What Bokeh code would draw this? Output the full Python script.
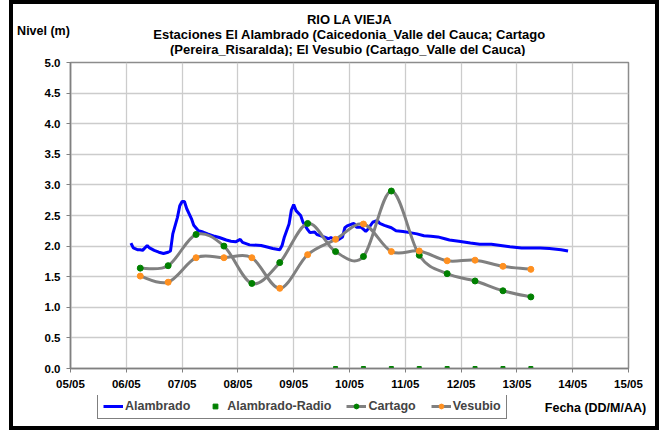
from datetime import datetime
from bokeh.plotting import figure
from bokeh.layouts import column
from bokeh.models import (ColumnDataSource, FixedTicker, DatetimeTickFormatter,
                          NumeralTickFormatter, Range1d, Label, Legend, LegendItem)
from bokeh.embed import file_html
from bokeh.resources import INLINE

# ---------------- data ----------------
alambrado_time = [
    "2011-05-06 02:00", "2011-05-06 03:00", "2011-05-06 05:00", "2011-05-06 06:00",
    "2011-05-06 07:00", "2011-05-06 09:00", "2011-05-06 10:00", "2011-05-06 12:00",
    "2011-05-06 14:00", "2011-05-06 16:00", "2011-05-06 18:00", "2011-05-06 19:00",
    "2011-05-06 20:00", "2011-05-06 22:00", "2011-05-06 23:00", "2011-05-07 00:00",
    "2011-05-07 01:00", "2011-05-07 02:00", "2011-05-07 04:00", "2011-05-07 05:00",
    "2011-05-07 07:00", "2011-05-07 09:00", "2011-05-07 11:00", "2011-05-07 14:00",
    "2011-05-07 16:00", "2011-05-07 19:00", "2011-05-07 21:00", "2011-05-07 23:00",
    "2011-05-08 01:00", "2011-05-08 02:00", "2011-05-08 05:00", "2011-05-08 10:00",
    "2011-05-08 13:00", "2011-05-08 15:00", "2011-05-08 18:00", "2011-05-08 19:00",
    "2011-05-08 20:00", "2011-05-08 22:00", "2011-05-08 23:00", "2011-05-09 00:00",
    "2011-05-09 01:00", "2011-05-09 03:00", "2011-05-09 04:00", "2011-05-09 06:00",
    "2011-05-09 07:00", "2011-05-09 09:00", "2011-05-09 10:00", "2011-05-09 13:00",
    "2011-05-09 15:00", "2011-05-09 16:00", "2011-05-09 18:00", "2011-05-09 19:00",
    "2011-05-09 21:00", "2011-05-09 22:00", "2011-05-09 23:00", "2011-05-10 01:00",
    "2011-05-10 02:00", "2011-05-10 03:00", "2011-05-10 05:00", "2011-05-10 07:00",
    "2011-05-10 08:00", "2011-05-10 10:00", "2011-05-10 12:00", "2011-05-10 13:00",
    "2011-05-10 15:00", "2011-05-10 18:00", "2011-05-10 20:00", "2011-05-10 23:00",
    "2011-05-11 02:00", "2011-05-11 05:00", "2011-05-11 08:00", "2011-05-11 11:00",
    "2011-05-11 14:00", "2011-05-11 17:00", "2011-05-11 19:00", "2011-05-11 23:00",
    "2011-05-12 04:00", "2011-05-12 08:00", "2011-05-12 13:00", "2011-05-12 17:00",
    "2011-05-12 21:00", "2011-05-13 02:00", "2011-05-13 06:00", "2011-05-13 10:00",
    "2011-05-13 14:00", "2011-05-13 19:00", "2011-05-13 22:00",
]
alambrado_level = [
    2.05, 1.97, 1.94, 1.94, 1.93, 2.01, 1.97, 1.93, 1.90, 1.88, 1.90, 1.92,
    2.20, 2.47, 2.66, 2.73, 2.73, 2.61, 2.45, 2.34, 2.25, 2.23, 2.20, 2.16,
    2.14, 2.10, 2.08, 2.07, 2.11, 2.06, 2.02, 2.01, 1.98, 1.96, 1.94, 2.01,
    2.15, 2.36, 2.59, 2.68, 2.58, 2.50, 2.39, 2.27, 2.22, 2.23, 2.19, 2.15,
    2.12, 2.14, 2.10, 2.10, 2.15, 2.30, 2.33, 2.36, 2.37, 2.31, 2.31, 2.24,
    2.28, 2.39, 2.42, 2.37, 2.34, 2.30, 2.25, 2.24, 2.22, 2.20, 2.17, 2.16,
    2.15, 2.12, 2.10, 2.08, 2.05, 2.03, 2.03, 2.01, 1.99, 1.97, 1.97, 1.97,
    1.96, 1.94, 1.92,
]

station_time = [
    "2011-05-06 06:00", "2011-05-06 18:00", "2011-05-07 06:00", "2011-05-07 18:00",
    "2011-05-08 06:00", "2011-05-08 18:00", "2011-05-09 06:00", "2011-05-09 18:00",
    "2011-05-10 06:00", "2011-05-10 18:00", "2011-05-11 06:00", "2011-05-11 18:00",
    "2011-05-12 06:00", "2011-05-12 18:00", "2011-05-13 06:00",
]
cartago_level = [1.64, 1.68, 2.19, 2.00, 1.39, 1.73, 2.37, 1.91, 1.83, 2.90,
                 1.85, 1.55, 1.43, 1.27, 1.17]
vesubio_level = [1.51, 1.41, 1.81, 1.81, 1.81, 1.31, 1.86, 2.11, 2.36, 1.91,
                 1.92, 1.76, 1.77, 1.67, 1.62]

radio_time = [
    "2011-05-09 18:00", "2011-05-10 06:00", "2011-05-10 18:00", "2011-05-11 06:00",
    "2011-05-11 18:00", "2011-05-12 06:00", "2011-05-12 18:00", "2011-05-13 06:00",
]
radio_level = [0, 0, 0, 0, 0, 0, 0, 0]

tick_days = ["2011-05-05", "2011-05-06", "2011-05-07", "2011-05-08", "2011-05-09",
             "2011-05-10", "2011-05-11", "2011-05-12", "2011-05-13", "2011-05-14",
             "2011-05-15"]
y_ticks = [0.0, 0.5, 1.0, 1.5, 2.0, 2.5, 3.0, 3.5, 4.0, 4.5, 5.0]

title_lines = ["RIO LA VIEJA",
               "Estaciones El Alambrado (Caicedonia_Valle del Cauca; Cartago",
               "(Pereira_Risaralda);  El Vesubio (Cartago_Valle del Cauca)"]
y_title = "Nivel (m)"
x_title = "Fecha (DD/M/AA)"
series_names = ["Alambrado", "Alambrado-Radio", "Cartago", "Vesubio"]

# ---------------- helpers ----------------
EPOCH = datetime(1970, 1, 1)
FONT = "Liberation Sans"
W = 662
H_TOP, H_MAIN, H_BOT = 56, 339, 35
BAR = "linear-gradient(#000,#000)"


def ms(s):
    fmt = "%Y-%m-%d %H:%M" if " " in s else "%Y-%m-%d"
    return (datetime.strptime(s, fmt) - EPOCH).total_seconds() * 1000.0


def smooth_segments(xs, ys):
    """Bezier segments through the points (Excel-like smoothed line)."""
    n = len(xs)
    d = dict(x0=[], y0=[], x1=[], y1=[], cx0=[], cy0=[], cx1=[], cy1=[])
    for i in range(n - 1):
        a = max(i - 1, 0)
        b = min(i + 2, n - 1)
        d["x0"].append(xs[i]); d["y0"].append(ys[i])
        d["x1"].append(xs[i + 1]); d["y1"].append(ys[i + 1])
        d["cx0"].append(xs[i] + (xs[i + 1] - xs[a]) / 6.0)
        d["cy0"].append(ys[i] + (ys[i + 1] - ys[a]) / 6.0)
        d["cx1"].append(xs[i + 1] - (xs[b] - xs[i]) / 6.0)
        d["cy1"].append(ys[i + 1] - (ys[b] - ys[i]) / 6.0)
    return d


def border_style(h, top=False, bottom=False):
    layers = [f"{BAR} 9px 0px/4px {h}px no-repeat",
              f"{BAR} 655px 0px/4px {h}px no-repeat"]
    if top:
        layers.append(f"{BAR} 9px 0px/650px 4px no-repeat")
    if bottom:
        layers.append(f"{BAR} 9px {h - 4}px/650px 4px no-repeat")
    return {"background": ", ".join(layers) + ", #ffffff"}


def no_frame_align(f):
    if "frame_align" in f.properties():
        f.frame_align = False


def text_panel(h):
    """A strip whose plot area spans the whole strip, in pixel units (y down)."""
    f = figure(width=W, height=h, output_backend="svg", toolbar_location=None,
               title=None, x_range=Range1d(0, W), y_range=Range1d(h, 0),
               x_axis_location=None, y_axis_location=None, min_border=0,
               min_border_left=0, min_border_right=0, min_border_top=0,
               min_border_bottom=0)
    f.grid.visible = False
    f.outline_line_color = None
    f.background_fill_color = None
    f.border_fill_color = None
    no_frame_align(f)
    return f


def text(f, x, y, s, size, align="center"):
    f.add_layout(Label(x=x, y=y, text=s, text_align=align, text_baseline="middle",
                       text_font=FONT, text_font_style="bold",
                       text_font_size=size, text_color="black"))


# ---------------- top strip: titles ----------------
top = text_panel(H_TOP)
top.styles = border_style(H_TOP, top=True)
for s, yy in zip(title_lines, [18.5, 34, 49]):
    text(top, 349, yy, s, "13px")
text(top, 43, 30, y_title, "12.5px")

# ---------------- main chart ----------------
x_start, x_end = ms(tick_days[0]), ms(tick_days[-1])
p_main = figure(width=W, height=H_MAIN, output_backend="svg", toolbar_location=None,
                title=None, x_axis_type="datetime",
                x_range=Range1d(x_start, x_end), y_range=Range1d(0, 5),
                min_border_left=70, min_border_right=34, min_border_top=6,
                min_border_bottom=27)
no_frame_align(p_main)
p_main.styles = border_style(H_MAIN)
p_main.border_fill_color = None
p_main.background_fill_color = "white"
p_main.outline_line_color = "#8c8c8c"
p_main.outline_line_width = 1.5

p_main.xaxis.ticker = FixedTicker(ticks=[ms(t) for t in tick_days])
p_main.xaxis.formatter = DatetimeTickFormatter(days="%d/%m", months="%d/%m",
                                               hours="%d/%m")
p_main.yaxis.ticker = FixedTicker(ticks=y_ticks)
p_main.yaxis.formatter = NumeralTickFormatter(format="0.0")
for ax in (p_main.xaxis, p_main.yaxis):
    ax.axis_line_color = "#808080"
    ax.axis_line_width = 1.5
    ax.major_tick_line_color = "#808080"
    ax.major_tick_in = 0
    ax.major_tick_out = 4
    ax.minor_tick_line_color = None
    ax.major_label_text_font = FONT
    ax.major_label_text_font_style = "bold"
    ax.major_label_text_font_size = "11.5px"
    ax.major_label_text_color = "black"
p_main.xaxis.major_label_standoff = 5
p_main.yaxis.major_label_standoff = 6
p_main.xgrid.ticker = p_main.xaxis.ticker
p_main.ygrid.ticker = p_main.yaxis.ticker
for g in (p_main.xgrid, p_main.ygrid):
    g.grid_line_color = "#cccccc"
    g.grid_line_width = 1.3

AL = dict(line_color="#0000ff", line_width=3)
RADIO = dict(marker="square", size=4, fill_color="#008000", line_color="#008000")
GRAY = dict(line_color="#808080", line_width=3)
CART = dict(marker="circle", size=6, fill_color="#008000", line_color="#008000")
VES = dict(marker="circle", size=6, fill_color="#ff9020", line_color="#ff9020")
BZ = dict(x0="x0", y0="y0", x1="x1", y1="y1", cx0="cx0", cy0="cy0", cx1="cx1",
          cy1="cy1")

al_ms = [ms(t) for t in alambrado_time]
radio_ms = [ms(t) for t in radio_time]
st_ms = [ms(t) for t in station_time]

p_main.line(al_ms, alambrado_level, **AL)
p_main.scatter(radio_ms, radio_level, **RADIO)
p_main.bezier(source=ColumnDataSource(smooth_segments(st_ms, cartago_level)),
              **BZ, **GRAY)
p_main.bezier(source=ColumnDataSource(smooth_segments(st_ms, vesubio_level)),
              **BZ, **GRAY)
p_main.scatter(st_ms, cartago_level, **CART)
p_main.scatter(st_ms, vesubio_level, **VES)

# ---------------- bottom strip: legend + x caption ----------------
bot = text_panel(H_BOT)
bot.styles = border_style(H_BOT, bottom=True)
# legend swatches: same series and styles, lying outside this strip's view
k_al = bot.line(al_ms, alambrado_level, **AL)
k_radio = bot.scatter(radio_ms, radio_level, **RADIO)
k_cl = bot.line(st_ms, cartago_level, **GRAY)
k_cp = bot.scatter(st_ms, cartago_level, **CART)
k_vl = bot.line(st_ms, vesubio_level, **GRAY)
k_vp = bot.scatter(st_ms, vesubio_level, **VES)
legend = Legend(items=[
    LegendItem(label=series_names[0], renderers=[k_al]),
    LegendItem(label=series_names[1], renderers=[k_radio]),
    LegendItem(label=series_names[2], renderers=[k_cl, k_cp]),
    LegendItem(label=series_names[3], renderers=[k_vl, k_vp]),
], orientation="horizontal", location=(97, 11))
legend.label_text_font = FONT
legend.label_text_font_style = "bold"
legend.label_text_font_size = "12.5px"
legend.label_standoff = 2
legend.glyph_width = 20
legend.glyph_height = 12
legend.label_height = 12
legend.spacing = 15
legend.padding = 5
legend.margin = 0
legend.border_line_color = "black"
legend.border_line_width = 1
legend.background_fill_color = "white"
legend.background_fill_alpha = 1
bot.add_layout(legend)
text(bot, 595, 12, x_title, "12.5px")

p = column(top, p_main, bot, spacing=0)
open("out.html", "w").write(file_html(p, INLINE))
